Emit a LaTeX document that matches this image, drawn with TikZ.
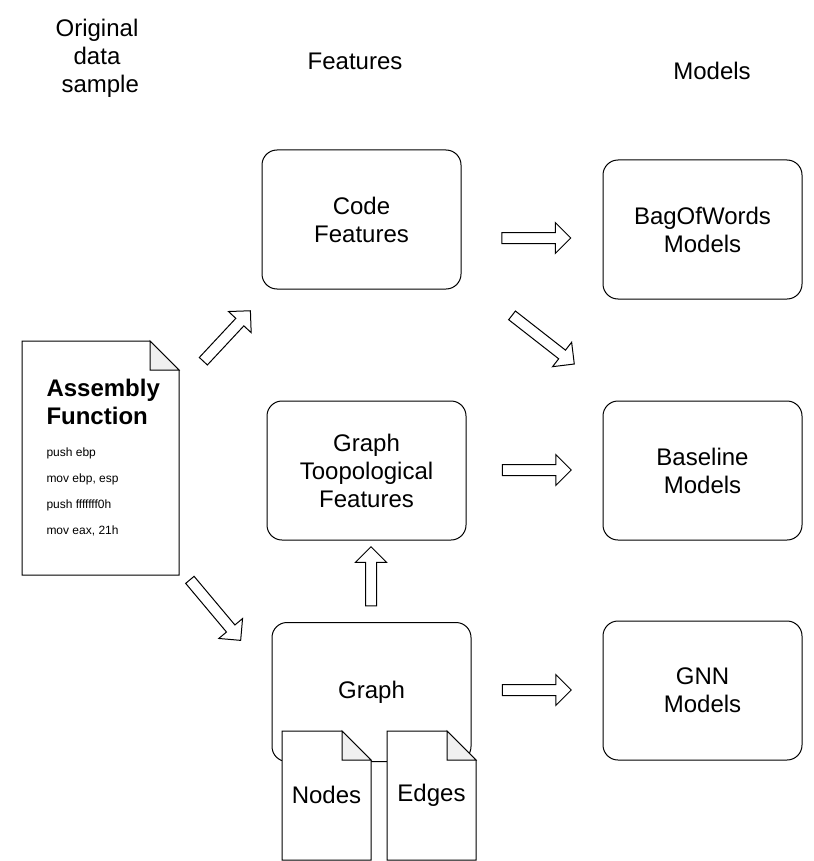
\documentclass[tikz,border=0pt]{standalone}
\usepackage{fontspec}
\setmainfont{Liberation Sans}
\usetikzlibrary{shapes.arrows}

\tikzset{
  box/.style={draw, rounded corners=15pt, minimum width=199pt, minimum height=139pt,
    align=center, font=\fontsize{24}{28}\selectfont},
  label/.style={align=center, font=\fontsize{24}{28}\selectfont},
  blockarrow/.style={draw, fill=white, single arrow, minimum width=30pt,
    single arrow head extend=10pt, single arrow tip angle=90,
    inner xsep=0pt, inner ysep=5pt},
  fold/.style={draw, fill=gray!12},
  instr/.style={anchor=west, inner sep=0pt, font=\fontsize{12}{14}\selectfont}
}

\begin{document}
\begin{tikzpicture}[x=1pt, y=-1pt, line width=1pt]

\useasboundingbox (0,0) rectangle (813,861);

% Column titles
\node[label] (orig) at (97,58) {Original\\data\\\hspace{6.5pt}sample};
\node[label] (feat) at (355,61) {Features};
\node[label] (mods) at (712,71) {Models};

% Feature boxes
\node[box] (code) at (361.5,219.5) {Code\\Features};
\node[box] (topo) at (366.5,470.5) {Graph\\Toopological\\Features};
\node[box] (graph) at (371.5,692) {Graph};

% Model boxes
\node[box] (bow) at (702.5,229.5) {BagOfWords\\Models};
\node[box] (base) at (702.5,470.5) {Baseline\\Models};
\node[box] (gnn) at (702.5,690.5) {GNN\\Models};

% Assembly document
\draw[fill=white] (22,341) -- (150,341) -- (179,370) -- (179,575) -- (22,575) -- cycle;
\draw[fold] (150,341) -- (150,370) -- (179,370) -- cycle;
\node[anchor=west, inner sep=0pt, align=left, font=\fontsize{24}{28}\selectfont\bfseries]
  (asm) at (46,402) {Assembly\\Function};
\foreach \ins [count=\i] in {push ebp, {mov ebp, esp}, push fffffff0h, {mov eax, 21h}}
  \node[instr] (ins\i) at (46,427+26*\i) {\ins};

% Nodes and Edges documents
\foreach \nm/\xx in {Nodes/282, Edges/387} {
  \draw[fill=white] (\xx,731) -- (\xx+60,731) -- (\xx+89,760) -- (\xx+89,860) -- (\xx,860) -- cycle;
  \draw[fold] (\xx+60,731) -- (\xx+60,760) -- (\xx+89,760) -- cycle;
  \node[label] (\nm) at (\xx+44.5,795) {\nm};
}

% Block arrows
\node[blockarrow, minimum height=69pt, rotate=47] (a1) at (225,338) {};
\node[blockarrow, minimum height=69pt] (a2) at (533.5,238) {};
\node[blockarrow, minimum height=79pt, rotate=-38] (a3) at (541,338) {};
\node[blockarrow, minimum height=69pt] (a4) at (534,470) {};
\node[blockarrow, minimum height=59pt, rotate=90] (a5) at (371,579) {};
\node[blockarrow, minimum height=79pt, rotate=-50] (a6) at (213.5,608) {};
\node[blockarrow, minimum height=69pt] (a7) at (534,690) {};

\end{tikzpicture}
\end{document}
